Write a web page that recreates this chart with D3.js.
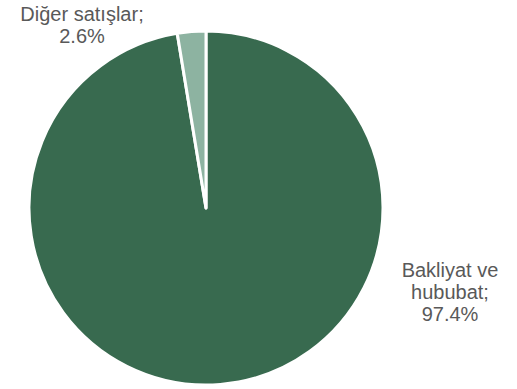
<!DOCTYPE html>
<html>
<head>
<meta charset="utf-8">
<script src="https://cdn.jsdelivr.net/npm/d3@7"></script>
<style>
  body { margin: 0; background: #ffffff; }
  #chart { width: 517px; height: 389px; }
</style>
</head>
<body>
<div id="chart"></div>
<script>
// Pie data
const categories = ["Bakliyat ve hububat", "Diğer satışlar"];
const values = [97.4, 2.6];
const labelLines = [["Bakliyat ve", "hububat;", "97.4%"], ["Diğer satışlar;", "2.6%"]];
const colors = ["#386a4f", "#8db3a1"];

const width = 517, height = 389;
const cx = 206, cy = 208, radius = 177;

const svg = d3.select("#chart")
    .append("svg")
    .attr("width", width)
    .attr("height", height);

const g = svg.append("g")
    .attr("transform", `translate(${cx},${cy})`);

const pie = d3.pie().sort(null).value(d => d);
const arcs = pie(values);
const arc = d3.arc().innerRadius(0).outerRadius(radius);

g.selectAll("path")
    .data(arcs)
    .enter()
    .append("path")
    .attr("d", arc)
    .attr("fill", (d, i) => colors[i])
    .attr("stroke", "#ffffff")
    .attr("stroke-width", 3)
    .attr("stroke-linejoin", "round");

// Labels placed outside the pie
const labelPos = [[450, 277], [82, 21]];
labelLines.forEach((lines, i) => {
    const t = svg.append("text")
        .attr("x", labelPos[i][0])
        .attr("y", labelPos[i][1])
        .attr("text-anchor", "middle")
        .style("font-family", "Liberation Sans, Arial, sans-serif")
        .style("font-size", "20px")
        .style("fill", "#595959");
    lines.forEach((s, j) => {
        t.append("tspan")
            .attr("x", labelPos[i][0])
            .attr("dy", j === 0 ? 0 : 22)
            .text(s);
    });
});
</script>
</body>
</html>
